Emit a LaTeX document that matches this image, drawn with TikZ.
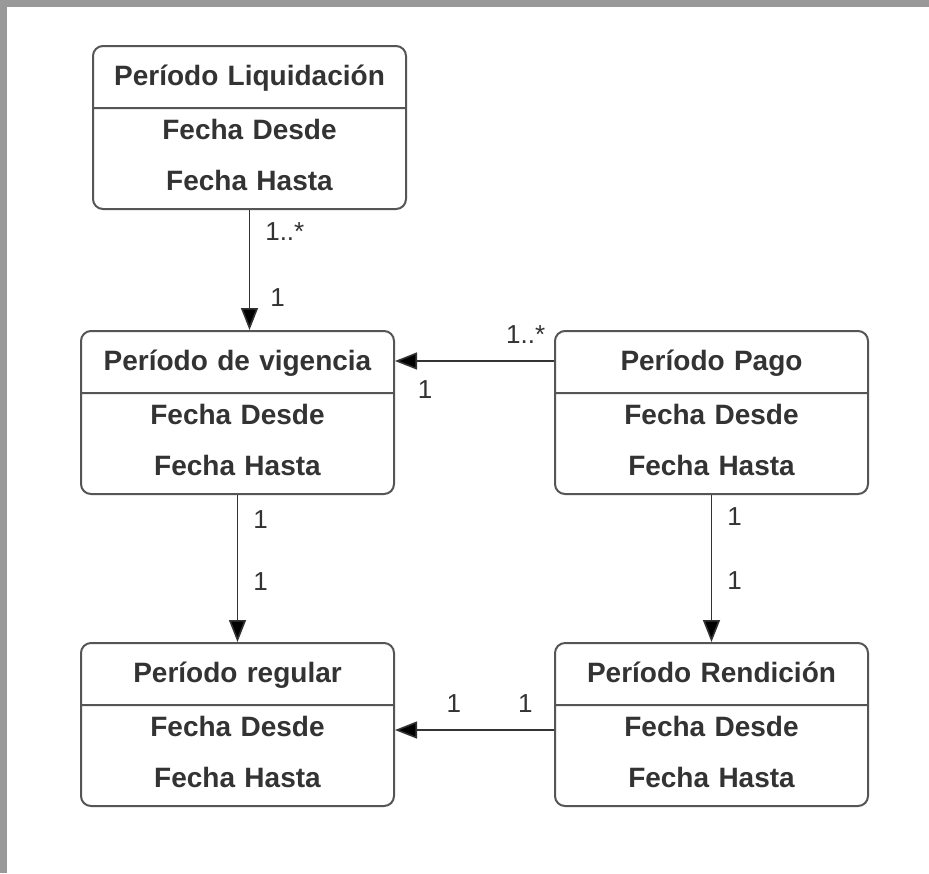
\documentclass[tikz,border=0pt]{standalone}
\usepackage{fontspec}
\setmainfont{Liberation Sans}
\usetikzlibrary{shapes.multipart, arrows.meta}
\usetikzlibrary{positioning}
\definecolor{bandgray}{HTML}{999999}
\definecolor{boxgray}{HTML}{555555}
\definecolor{inkgray}{HTML}{333333}
\tikzstyle{classbox} = [rectangle split, rectangle split parts=2, rounded corners=5pt,
draw=boxgray, line width=1pt, text width=156.5pt, inner xsep=0pt, inner ysep=0pt, align=center,
text=inkgray, font=\bfseries\fontsize{14}{25.5}\selectfont]
\tikzstyle{mult} = [inner sep=0pt, text=inkgray, font=\fontsize{13}{15}\selectfont]
\tikzstyle{arrow} = [draw=inkgray, line width=0.8pt, -{Triangle[length=11pt,width=8.5pt]}]
\newcommand{\titlestrut}{\rule[-11pt]{0pt}{30pt}}
\newcommand{\fechas}{\rule{0pt}{15pt}Fecha Desde\\Fecha Hasta\rule[-9pt]{0pt}{9pt}}

\begin{document}
\begin{tikzpicture}
    \fill[bandgray] (0,0) rectangle (464.5pt,-436.5pt);
    \fill[white] (3.5pt,-3.5pt) rectangle (464.5pt,-436.5pt);

    \node (vig) [classbox, anchor=north west] at (40pt,-165pt)
        {\titlestrut Período de vigencia \nodepart{two} \fechas};
    \node (pago) [classbox, right=79.5pt of vig]
        {\titlestrut Período Pago \nodepart{two} \fechas};
    \node (liq) [classbox, above=60pt of vig, xshift=6pt]
        {\titlestrut Período Liquidación \nodepart{two} \fechas};
    \node (reg) [classbox, below=73.5pt of vig]
        {\titlestrut Período regular \nodepart{two} \fechas};
    \node (rend) [classbox, below=73.5pt of pago]
        {\titlestrut Período Rendición \nodepart{two} \fechas};

    \draw[arrow] (liq.south) --
        node[mult, pos=0.25, anchor=base west, xshift=7.5pt] {1..*}
        node[mult, pos=0.80, anchor=base west, xshift=10pt] {1}
        (liq.south |- vig.north);
    \draw[arrow] ([yshift=-15.5pt]pago.north west) --
        node[mult, pos=0, anchor=base east, xshift=-4pt, yshift=9pt] {1..*}
        node[mult, pos=0.81, anchor=base, yshift=-18.5pt] {1}
        ([yshift=-15.5pt]vig.north east);
    \draw[arrow] (vig.south) --
        node[mult, pos=0.23, anchor=base west, xshift=7.5pt] {1}
        node[mult, pos=0.65, anchor=base west, xshift=7.5pt] {1}
        (reg.north);
    \draw[arrow] (pago.south) --
        node[mult, pos=0.21, anchor=base west, xshift=7.5pt] {1}
        node[mult, pos=0.64, anchor=base west, xshift=7.5pt] {1}
        (rend.north);
    \draw[arrow] ([yshift=-44pt]rend.north west) --
        node[mult, pos=0.18, anchor=base, yshift=9pt] {1}
        node[mult, pos=0.63, anchor=base, yshift=9pt] {1}
        ([yshift=-44pt]reg.north east);

\end{tikzpicture}
\end{document}
